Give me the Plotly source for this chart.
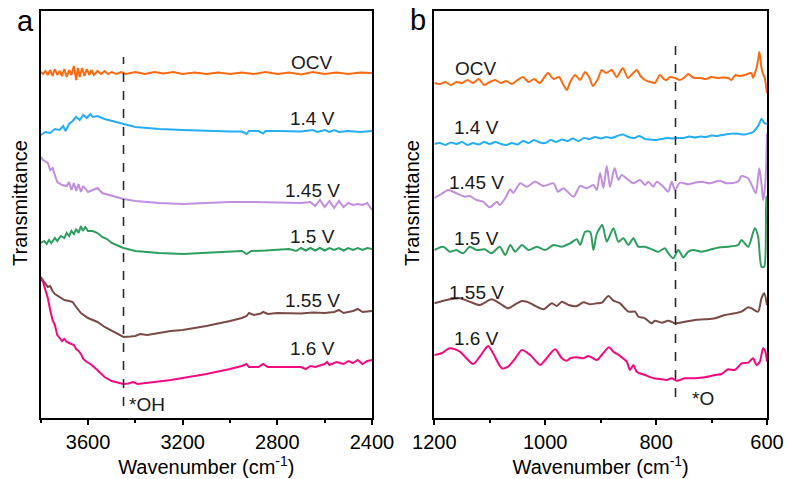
import plotly.graph_objects as go

# ---------------- Panel a (3800-2400 cm-1), transmittance in arbitrary offset units
a_ocv_x = [3800,3790,3780,3770,3760,3750,3740,3730,3720,3710,3700,3690,3680,3670,3660,3650,3643,3635,3625,3615,3605,3595,3585,3575,3560,3545,3530,3515,3500,3480,3460,3440,3400,3360,3320,3280,3240,3200,3150,3100,3050,3000,2950,2900,2850,2800,2750,2700,2650,2600,2550,2500,2450,2400]
a_ocv_y = [348,346,349,345,350,344,351,345,349,344,351,343,350,345,354,340,352,343,352,344,351,345,350,345,349,346,349,346,348,346,348,346,348,346,348,346.5,348,346,347.5,346,347.5,346,347.5,346,348,346,347.5,345.5,348,346,347.5,346,347.5,347]

a_14_x = [3800,3780,3760,3740,3720,3705,3695,3680,3665,3650,3635,3620,3605,3590,3580,3560,3530,3500,3470,3450,3420,3400,3350,3300,3200,3100,3000,2950,2930,2920,2880,2860,2850,2800,2700,2650,2630,2600,2580,2560,2540,2500,2450,2400]
a_14_y = [285,288,287,291,290,294,289,296,299,303,300,305,302,306,303,304,301,299,297,296,294,293,292,291,290,289,288.5,288.5,286,289,289,286.5,289,289,288.5,290,288,290,288,290,288,289,288,289]

a_145_x = [3800,3790,3770,3760,3750,3740,3730,3710,3690,3680,3670,3660,3650,3640,3630,3620,3600,3580,3560,3540,3500,3450,3400,3300,3200,3100,3000,2900,2800,2700,2660,2640,2620,2600,2580,2560,2540,2520,2500,2480,2460,2440,2420,2400]
a_145_y = [263,260,257,250,252,244,238,235,234,238,230,237,229,236,228,234,228,230,232,227,224,221,219,217,216,217,218,218,217.5,217,218,214,220,213,219,212,219,213,217,215,216,215,217,210]

a_15_x = [3800,3785,3775,3765,3755,3740,3730,3715,3700,3690,3680,3670,3660,3650,3640,3630,3622,3612,3600,3580,3560,3540,3520,3500,3470,3450,3400,3350,3300,3200,3100,3000,2950,2930,2910,2850,2800,2750,2720,2700,2680,2660,2640,2620,2600,2580,2560,2540,2520,2500,2480,2460,2440,2420,2400]
a_15_y = [177,179,176,180,177,182,179,184,182,187,184,189,186,191,187,194,189,193,189,189,187,183,181,177,174,172,169,168,167,166,167,168,169,166,169,169.5,170,171,169,172,169.5,172,169.5,172,169.5,172,170,172,169.5,172,170,172,170,172,171]

a_155_x = [3800,3790,3780,3770,3760,3750,3740,3720,3700,3680,3665,3650,3630,3600,3580,3560,3530,3500,3470,3450,3420,3400,3380,3350,3300,3250,3200,3100,3000,2950,2930,2920,2900,2870,2860,2840,2800,2750,2700,2650,2600,2560,2540,2520,2480,2460,2440,2400]
a_155_y = [143,140,137,133,134,129,126,123,120,119,118,113,107,102,100,98,93,89,85,83,83.5,84,86,85,87,89,90,94,99,102,104,107,105,106.5,108,106,107,107,106.5,107.5,107,108,110,107,109,111,108,109]

a_16_x = [3800,3790,3780,3770,3760,3750,3740,3730,3720,3710,3700,3690,3680,3660,3650,3640,3630,3620,3605,3590,3570,3550,3530,3500,3470,3450,3430,3410,3390,3350,3300,3250,3200,3100,3000,2950,2930,2920,2880,2860,2840,2800,2750,2700,2680,2660,2640,2600,2590,2580,2550,2520,2500,2480,2460,2440,2420,2400]
a_16_y = [142,138,130,122,110,100,95,85,82,79,81,78,77,75,71,69,66,61,58,56,52,47,43,39,37,36,36.5,38,36,37,39,40,42,46,51,54,56,53,53,56,53,53,52.5,53,51,54,53,56,58,55,58,56,59,57,60,56,59,60]

# ---------------- Panel b (1200-600 cm-1)
b_ocv_x = [1200,1190,1180,1170,1160,1150,1140,1130,1120,1110,1100,1090,1080,1070,1060,1050,1040,1030,1020,1010,1000,995,985,975,968,961,955,946,937,928,920,914,905,898,890,880,871,860,851,843,835,828,820,810,802,793,786,781,775,766,757,750,742,735,730,720,710,700,690,680,670,664,657,650,640,630,628,625,619,616,614,612,610,607,604,602,600]
b_ocv_y = [337,336,338,335,338,337,340,337,341,335,338,340,337,339,336,340,343,338,341,337,344,347,341,343,336,330,338,345,340,348,342,334,341,350,347,350,343,352,342,346,350,344,340,338,337,345,341,340,343,342,340,342,346,343,342,342,341,343,342,342.5,342,340,345,344,345,347,347,342,352,360,368,362,352,346,342,335,327]

b_14_x = [1200,1190,1180,1170,1160,1150,1140,1130,1120,1110,1100,1090,1080,1070,1060,1050,1040,1030,1020,1010,1000,990,980,970,960,950,940,930,920,910,900,890,880,870,860,850,840,830,820,810,800,790,780,770,765,750,740,730,720,710,700,690,680,670,660,650,640,630,625,620,615,610,607,605,600]
b_14_y = [276,277,275,277.5,276,278,275,277,275.5,278,276,278,276,275,277,275.5,279,277,280,277.5,277,280,278,280.5,279,281.5,279,282,281,283,281.5,283,282,284,285.5,283,282,284,281,280.5,280,281,282,281.5,282,282,283.5,282.5,283.5,283,284.5,284,285,286,286.5,286,285.5,287,288,291,295,301,299,297,296]

b_145_x = [1200,1187,1175,1160,1145,1136,1124,1112,1100,1087,1082,1072,1063,1058,1045,1033,1018,1003,985,977,967,949,937,925,913,907,901,895,889,883,875,868,862,850,841,829,820,814,805,799,787,778,772,766,757,742,730,718,703,685,673,652,646,634,625,620,614,610,607,603,600]
b_145_y = [222,226,230,226.7,223.3,224,220,218.3,212.7,218.3,215,222,230.7,227,236.7,233.3,238.3,234,236.7,228.3,231.7,223.3,234,231.7,235,230,247,232,254,233,252,240,245,240,236.7,240,235,238.3,233.3,238.3,233.3,228.3,238.3,230,237.3,235.7,237.3,238.3,236.7,239.3,236.7,238.3,244,241.7,231.7,226.7,251.7,236.7,220,236.7,287]

b_15_x = [1200,1184,1172,1160,1148,1136,1124,1109,1097,1082,1072,1063,1054,1042,1030,1015,1000,985,970,955,943,937,928,919,913,907,897,889,877,868,859,850,841,832,820,805,796,784,778,769,760,751,742,733,718,700,685,670,652,646,634,622,616,610,605,601,600]
b_15_y = [170,173.3,168.3,170,166.7,173.3,170,170.7,166.7,173.3,165,175,168.3,175,170,173.3,170,175,173.3,176.7,180.7,175,188.3,188.3,170,186,195,178.3,191.7,178.3,181.7,175,181.7,173.3,173.3,170,168.3,171.7,166.7,161.7,170,162.7,168.3,170,168.3,170.7,172.7,173.3,175,180,173.3,191.7,183.3,153.3,153.3,223.3,223]

b_155_x = [1200,1172,1154,1136,1118,1097,1082,1067,1051,1042,1033,1021,1003,988,979,970,958,943,931,919,907,898,886,877,865,850,838,832,820,808,802,790,778,766,748,730,712,694,676,658,646,634,628,616,610,605,600]
b_155_y = [116.7,120.7,121.7,118.3,115,120.7,116.7,111.7,116.7,119,118.3,115,110.7,116.7,114,118.3,115,114,117.7,115.7,116.7,117.3,124,119.3,116.7,108.3,108.3,103.3,101.7,96.7,99.3,97.3,99.3,96.7,98.3,100,100.7,101.7,105,106.7,108.3,112.7,111.7,108.3,121.7,126.7,115]

b_16_x = [1200,1187,1172,1154,1130,1118,1103,1094,1078,1067,1054,1042,1027,1009,1000,982,970,961,955,943,931,922,907,898,885,877,865,853,847,841,835,820,805,790,781,772,763,748,730,712,694,682,670,658,646,634,625,619,613,607,603,600]
b_16_y = [65,66.7,71.7,68.3,56,63.3,74,66.7,51.7,53.3,61.7,70,65,55,60,70.7,61.7,59.3,61.7,62.7,61.7,64,60,65,72.7,68.3,64,58.3,50,55,48.3,45,41.7,40.7,40,41.7,39.3,41.7,41.7,42.7,45,46,50.7,50,56.7,57.3,61.7,55,58.3,71.7,68.3,58.3]

labels = ["OCV", "1.4 V", "1.45 V", "1.5 V", "1.55 V", "1.6 V"]
colors = ["#FF6A10", "#25AEF5", "#C08FE0", "#2E9E5E", "#7A4B46", "#F7087F"]
a_label_y = [358, 302, 230, 184, 120, 72]
b_label_y = [352, 293, 238, 182, 128, 82]
a_peak = 3450
b_peak = 765

a_series = [(a_ocv_x, a_ocv_y), (a_14_x, a_14_y), (a_145_x, a_145_y), (a_15_x, a_15_y), (a_155_x, a_155_y), (a_16_x, a_16_y)]
b_series = [(b_ocv_x, b_ocv_y), (b_14_x, b_14_y), (b_145_x, b_145_y), (b_15_x, b_15_y), (b_155_x, b_155_y), (b_16_x, b_16_y)]

FONT = "Liberation Sans, Arial, sans-serif"
W, H = 789, 479
fig = go.Figure()
for (x, y), c, n in zip(a_series, colors, labels):
    fig.add_trace(go.Scatter(x=x, y=y, mode="lines", line=dict(color=c, width=2), name=n,
                             xaxis="x", yaxis="y", showlegend=False))
for (x, y), c, n in zip(b_series, colors, labels):
    fig.add_trace(go.Scatter(x=x, y=y, mode="lines",
                             line=dict(color=c, width=2, shape="spline", smoothing=0.7), name=n,
                             xaxis="x2", yaxis="y2", showlegend=False))

xcommon = dict(showline=True, linecolor="black", linewidth=1.5, mirror=True, automargin=False,
               showgrid=False, zeroline=False, ticks="outside", ticklen=5, tickwidth=1.5,
               tickcolor="black", tickfont=dict(size=20, color="black", family=FONT))
ycommon = dict(showline=True, linecolor="black", linewidth=1.5, mirror=True, automargin=False,
               showgrid=False, zeroline=False, ticks="", showticklabels=False,
               domain=[1-418/H, 1-11/H], range=[2, 409])
fig.update_layout(
    width=W, height=H, margin=dict(l=0, r=0, t=0, b=0, autoexpand=False),
    paper_bgcolor="white", plot_bgcolor="white",
    font=dict(family=FONT, size=18, color="black"),
    xaxis=dict(domain=[40.7/W, 372/W], range=[3800, 2400], tickmode="linear", tick0=2400, dtick=400,
               minor=dict(ticks="outside", ticklen=3, tickwidth=1.5, tickcolor="black", dtick=200, tick0=2400),
               title=dict(text="Wavenumber (cm<sup>-1</sup>)", font=dict(size=20), standoff=0),
               anchor="y", **xcommon),
    yaxis=dict(anchor="x", **ycommon),
    xaxis2=dict(domain=[434.3/W, 767/W], range=[1200, 600], tickmode="linear", tick0=600, dtick=200,
                minor=dict(ticks="outside", ticklen=3, tickwidth=1.5, tickcolor="black", dtick=100, tick0=600),
                title=dict(text="Wavenumber (cm<sup>-1</sup>)", font=dict(size=20), standoff=0),
                anchor="y2", **xcommon),
    yaxis2=dict(anchor="x2", **ycommon),
)

# dashed guide lines
fig.add_shape(type="line", xref="x", yref="y", x0=a_peak, x1=a_peak, y0=14, y1=363,
              line=dict(color="#2a2a2a", width=1.6, dash="dash"))
fig.add_shape(type="line", xref="x2", yref="y2", x0=b_peak, x1=b_peak, y0=23, y1=377,
              line=dict(color="#2a2a2a", width=1.6, dash="dash"))

for n, yv in zip(labels, a_label_y):
    fig.add_annotation(x=2652, y=yv, xref="x", yref="y", text=n, showarrow=False,
                       xanchor="center", yanchor="middle", font=dict(size=19, color="#1a1a1a"))
for n, yv in zip(labels, b_label_y):
    fig.add_annotation(x=1124, y=yv, xref="x2", yref="y2", text=n, showarrow=False,
                       xanchor="center", yanchor="middle", font=dict(size=19, color="#1a1a1a"))
fig.add_annotation(x=3435, y=16, xref="x", yref="y", text="*OH", showarrow=False, xanchor="left",
                   yanchor="middle", font=dict(size=19, color="#1a1a1a"))
fig.add_annotation(x=739, y=22, xref="x2", yref="y2", text="*O", showarrow=False, xanchor="left",
                   yanchor="middle", font=dict(size=19, color="#1a1a1a"))

# y-axis titles and panel letters
for px in (20, 412):
    fig.add_annotation(x=px/W, y=1-203/H, xref="paper", yref="paper", text="Transmittance",
                       textangle=-90, showarrow=False, xanchor="center", yanchor="middle",
                       font=dict(size=20, color="black"))
fig.add_annotation(x=25/W, y=1-21/H, xref="paper", yref="paper", text="a", showarrow=False,
                   xanchor="center", yanchor="middle", font=dict(size=29, color="black"))
fig.add_annotation(x=418/W, y=1-20/H, xref="paper", yref="paper", text="b", showarrow=False,
                   xanchor="center", yanchor="middle", font=dict(size=29, color="black"))

fig.write_html("out.html")
